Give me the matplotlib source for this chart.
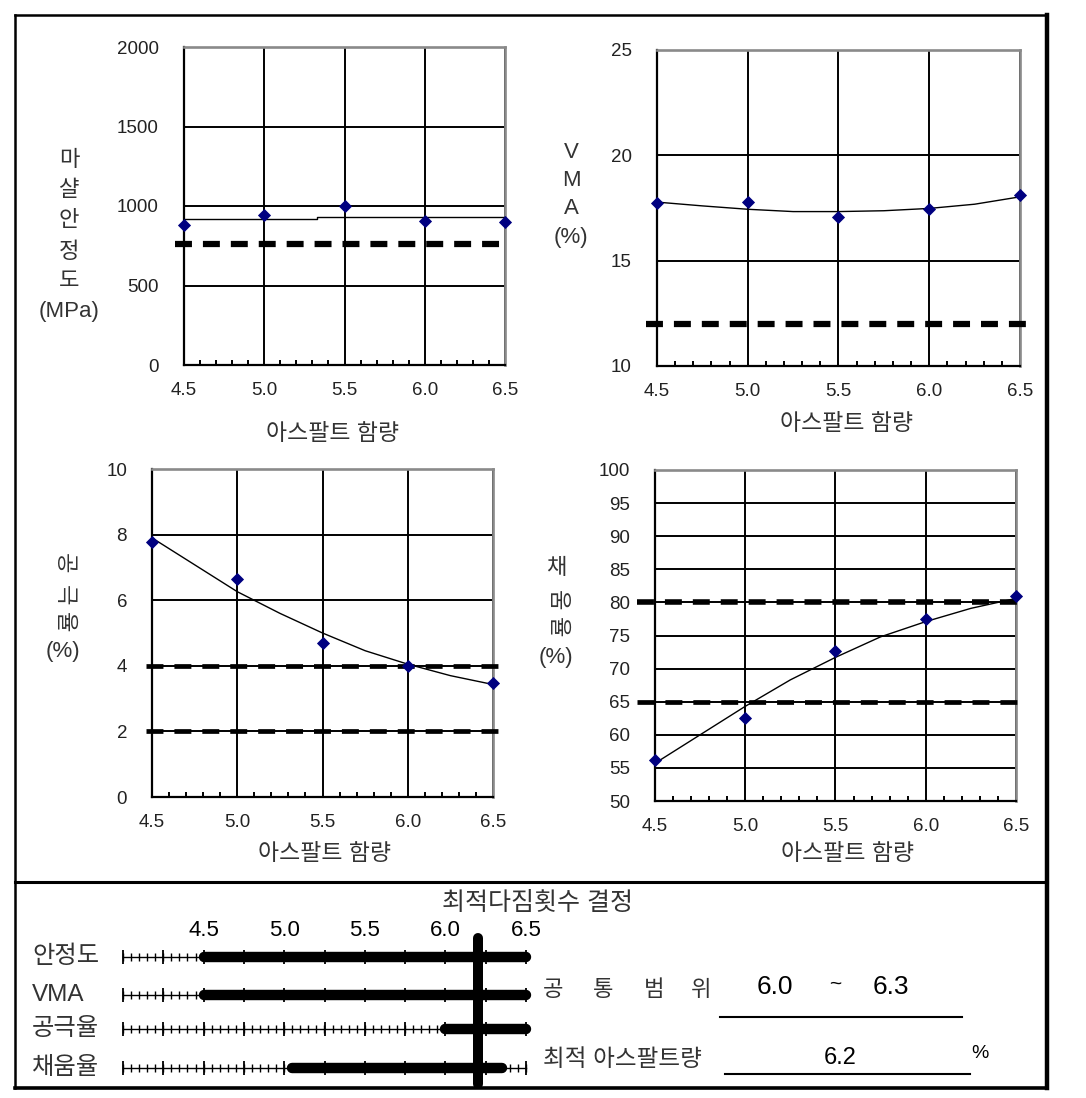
import numpy as np
import matplotlib
matplotlib.use('Agg')
import matplotlib.pyplot as plt
from matplotlib.ticker import MultipleLocator, FormatStrFormatter

plt.rcParams['font.family'] = ['Liberation Sans', 'Noto Sans CJK KR', 'DejaVu Sans']
plt.rcParams['lines.scale_dashes'] = False

W, H = 1086, 1098

# DATA
asphalt = [4.5, 5.0, 5.5, 6.0, 6.5]
stability = [880, 943, 1000, 907, 899]
vma = [17.74, 17.78, 17.09, 17.47, 18.10]
air_voids = [7.76, 6.65, 4.71, 4.00, 3.47]
vfa = [56.2, 62.6, 72.6, 77.5, 80.9]

# trend lines
trend_x = [4.5, 4.75, 5.0, 5.25, 5.5, 5.75, 6.0, 6.25, 6.5]
stability_trend_x = [4.5, 5.33, 5.33, 6.5]
stability_trend = [920, 920, 932, 932]
vma_trend = [17.78, 17.6, 17.44, 17.33, 17.33, 17.37, 17.48, 17.68, 18.03]
air_trend = [7.9, 7.08, 6.26, 5.6, 5.0, 4.46, 4.05, 3.7, 3.43]
vfa_trend = [55.7, 60.0, 64.3, 68.3, 71.7, 74.8, 77.1, 79.1, 80.6]

# criteria
stability_limits = [760]
vma_limits = [12]
air_limits = [4, 2]
vfa_limits = [80, 65]

# range chart
range_names = ['안정도', 'VMA', '공극율', '채움율']
range_lo = [4.5, 4.5, 6.0, 5.05]
range_hi = [6.5, 6.5, 6.5, 6.35]
scale_ticks = [4.5, 5.0, 5.5, 6.0, 6.5]
common_range = [6.0, 6.3]
optimum = 6.2

TXT = '#333333'

fig = plt.figure(figsize=(W / 100, H / 100), dpi=100)

# background axes in pixel coordinates for frame and free text
bg = fig.add_axes([0, 0, 1, 1])
bg.set_xlim(0, W)
bg.set_ylim(H, 0)
bg.axis('off')


def px_axes(l, t, r, b):
    return fig.add_axes([l / W, 1 - b / H, (r - l) / W, (b - t) / H])


def panel(l, t, r, b, ylim, ystep):
    ax = px_axes(l, t, r, b)
    ax.set_xlim(4.5, 6.5)
    ax.set_ylim(*ylim)
    ax.xaxis.set_major_locator(MultipleLocator(0.5))
    ax.xaxis.set_minor_locator(MultipleLocator(0.1))
    ax.xaxis.set_major_formatter(FormatStrFormatter('%.1f'))
    ax.yaxis.set_major_locator(MultipleLocator(ystep))
    ax.grid(True, which='major', color='black', lw=1.4)
    ax.set_axisbelow(True)
    for s in ['left', 'bottom']:
        ax.spines[s].set_color('black')
        ax.spines[s].set_linewidth(1.6)
    for s in ['top', 'right']:
        ax.spines[s].set_color('#8a8a8a')
        ax.spines[s].set_linewidth(1.9)
    ax.tick_params(which='major', length=0, labelsize=13.5, labelcolor='#222222')
    ax.tick_params(axis='y', pad=18)
    ax.tick_params(axis='x', pad=12)
    ax.tick_params(axis='x', which='minor', direction='in', length=3.6,
                   width=1.4, color='black')
    return ax


def limit_line(ax, y, x0, x1, lw):
    ax.plot([x0, x1], [y, y], color='black', lw=lw, dashes=(12.2, 7.9),
            clip_on=False, zorder=3)


def draw_series(ax, tx, ty, vals):
    ax.plot(tx, ty, color='black', lw=1.0, zorder=3)
    ax.plot(asphalt, vals, ls='none', marker='D', ms=5.8, mew=0.6,
            color='#000080', clip_on=False, zorder=4)


def stack(x, ys, chars, rots=None, size=16):
    if rots is None:
        rots = [0] * len(chars)
    for y, c, r in zip(ys, chars, rots):
        bg.text(x, y, c, ha='center', va='center', fontsize=size,
                rotation=r, color=TXT)


XL = 16.5  # x axis label size

# stability
ax1 = panel(184, 47, 505, 365, (0, 2000), 500)
draw_series(ax1, stability_trend_x, stability_trend, stability)
for v in stability_limits:
    limit_line(ax1, v, 4.445, 6.505, 4.5)
stack(69, [160, 190, 221, 252, 281, 312], ['마', '샬', '안', '정', '도', '(MPa)'])
bg.text(333, 433, '아스팔트 함량', ha='center', va='center', fontsize=XL, color=TXT)

# VMA
ax2 = panel(657, 50, 1020, 366, (10, 25), 5)
draw_series(ax2, trend_x, vma_trend, vma)
for v in vma_limits:
    limit_line(ax2, v, 4.44, 6.57, 4.5)
stack(571, [153, 180, 208, 237], ['V', 'M', 'A', '(%)'])
bg.text(847, 423, '아스팔트 함량', ha='center', va='center', fontsize=XL, color=TXT)

# air voids
ax3 = panel(152, 469, 493, 797, (0, 10), 2)
draw_series(ax3, trend_x, air_trend, air_voids)
for v in air_limits:
    limit_line(ax3, v, 4.465, 6.53, 3.4)
stack(63, [563, 595, 622, 652], ['공', '극', '율', '(%)'], [-90, -90, -90, 0])
bg.text(325, 853, '아스팔트 함량', ha='center', va='center', fontsize=XL, color=TXT)

# VFA
ax4 = panel(655, 470, 1016, 801, (50, 100), 5)
draw_series(ax4, trend_x, vfa_trend, vfa)
limit_line(ax4, vfa_limits[0], 4.40, 6.55, 4.0)
limit_line(ax4, vfa_limits[1], 4.40, 6.55, 3.4)
stack(556, [568, 600, 627, 657], ['채', '움', '율', '(%)'], [0, -90, -90, 0])
bg.text(848, 853, '아스팔트 함량', ha='center', va='center', fontsize=XL, color=TXT)

# outer frame
k = 'black'
bg.plot([15, 1047], [15, 15], color=k, lw=1.8)
bg.plot([15, 15], [15, 1088], color=k, lw=1.8)
bg.plot([1047, 1047], [15, 1088], color=k, lw=3.2)
bg.plot([15, 1047], [882, 882], color=k, lw=2.2)
bg.plot([15, 1047], [1088, 1088], color=k, lw=2.6)

# range chart
bg.text(538, 903, '최적다짐횟수 결정', ha='center', va='center', fontsize=18, color=TXT)
axr = px_axes(123, 920, 526, 1088)
axr.set_xlim(4.0, 6.5)
axr.set_ylim(1088, 920)
axr.axis('off')
row_y = [957, 995, 1029, 1068]
fine = np.arange(4.0, 6.5001, 0.05)
mid = np.arange(4.0, 6.5001, 0.25)
for y, name, lo, hi in zip(row_y, range_names, range_lo, range_hi):
    axr.plot([4.0, 6.5], [y, y], color='black', lw=1.0, clip_on=False)
    axr.vlines(fine, y - 4, y + 4, color='black', lw=1.0, clip_on=False)
    axr.vlines(mid, y - 7, y + 7, color='black', lw=1.3, clip_on=False)
    axr.plot([lo, hi], [y, y], color='black', lw=7.5, solid_capstyle='round',
             clip_on=False)
    bg.text(32, y, name, ha='left', va='center', fontsize=17.5, color=TXT)
for v in scale_ticks:
    axr.text(v, 931, f'{v:.1f}', ha='center', va='center', fontsize=16, color='black')
axr.plot([optimum, optimum], [938, 1084], color='black', lw=7.2,
         solid_capstyle='round', clip_on=False)

# result text
for x, c in zip([553, 603, 654, 701], ['공', '통', '범', '위']):
    bg.text(x, 990, c, ha='center', va='center', fontsize=16, color=TXT)
bg.text(775, 987, f'{common_range[0]:.1f}', ha='center', va='center', fontsize=19, color='black')
bg.text(835, 984, '~', ha='center', va='center', fontsize=15, color='black')
bg.text(891, 987, f'{common_range[1]:.1f}', ha='center', va='center', fontsize=19, color='black')
bg.plot([720, 962], [1017, 1017], color='black', lw=1.5)
bg.text(543, 1060, '최적 아스팔트량', ha='left', va='center', fontsize=17, color=TXT)
bg.text(840, 1058, f'{optimum:.1f}', ha='center', va='center', fontsize=17, color='black')
bg.plot([725, 970], [1074, 1074], color='black', lw=1.5)
bg.text(980, 1053, '%', ha='center', va='center', fontsize=14, color='black')

fig.savefig('out.png', dpi=100)
